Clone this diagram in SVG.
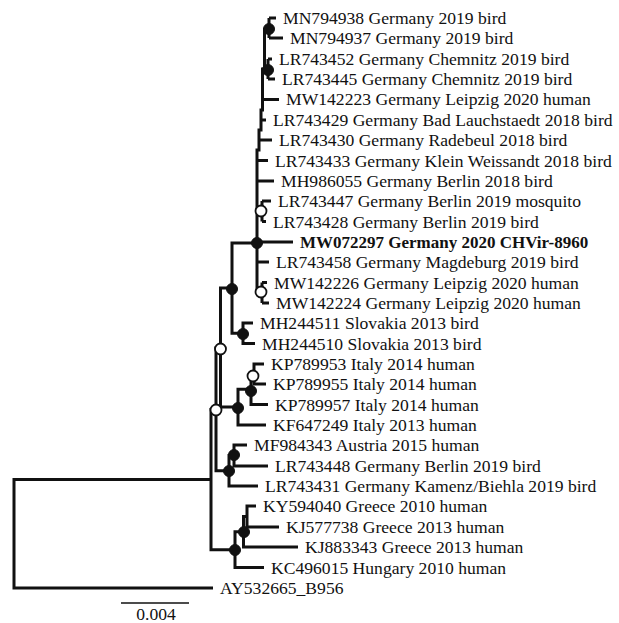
<svg xmlns="http://www.w3.org/2000/svg" width="619" height="623" viewBox="0 0 619 623">
<style>
.br{fill:none;stroke:#111;stroke-width:3;stroke-linejoin:miter;stroke-linecap:butt}
.lb{font-family:"Liberation Serif","Times New Roman",serif;font-size:17.6px;fill:#111}
.bd{font-weight:bold;font-size:17px}
.f{fill:#111;stroke:#111;stroke-width:1}
.o{fill:#fff;stroke:#111;stroke-width:1.8}
</style>
<rect width="619" height="623" fill="#fff"/>
<g id="connectors" class="br">
<path d="M14 533.8V479.6H211M14 533.8V588H213"/>
<path d="M211 479.6V409.5H216M211 479.6V549.7H235"/>
<path d="M216 409.5V348H220.5M216 409.5V470.8H229"/>
<path d="M220.5 348V288H232M220.5 348V407H238"/>
<path d="M232 288V243H257M232 288V333.3H243"/>
<path d="M243 333.3V323H253M243 333.3V343.5H255"/>
<path d="M238 407V389.3H251M238 407V425H266"/>
<path d="M251 389.3V374H254M251 389.3V404.5H268"/>
<path d="M254 374V364H264M254 374V384H266"/>
<path d="M229 470.8V455.5H234M229 470.8V486H258"/>
<path d="M234 455.5V445H247M234 455.5V466H268"/>
<path d="M235 549.7V531.8H243.5M235 549.7V567.5H264"/>
<path d="M243.5 531.8V516.6H247M243.5 531.8V547H298"/>
<path d="M247 516.6V506H256M247 516.6V527H279"/>
<path d="M257 292.7V150H259V130H261V110H262.5V69H264.5V28"/>
<path d="M264.5 28.5H269M269 18V38M269 18H276M269 38H283"/>
<path d="M262.5 69H268M268 59V79M268 59H272M268 79H275"/>
<path d="M262.5 99.4H279M261 120H266M259 140H272M257 160.5H268M257 181H274"/>
<path d="M257 211.3H262M262 201V221.5M262 201H271M262 221.5H266"/>
<path d="M257 242H293M257 262H269"/>
<path d="M257 292.7H262M262 282.5V303M262 282.5H267M262 303H269"/>
<path d="M121 603H189" style="stroke-width:1.5"/>
</g>
<g id="node-C1"><circle class="f" cx="269" cy="29" r="5.5"/></g>
<g id="node-C2"><circle class="f" cx="268" cy="70" r="5.5"/></g>
<g id="node-C10"><circle class="o" cx="261" cy="211" r="5.5"/></g>
<g id="node-N4"><circle class="f" cx="257" cy="243" r="5.5"/></g>
<g id="node-P"><circle class="o" cx="261" cy="292" r="5.5"/></g>
<g id="node-N3"><circle class="f" cx="232" cy="289" r="5.5"/></g>
<g id="node-S"><circle class="f" cx="243" cy="334" r="5.5"/></g>
<g id="node-N2"><circle class="o" cx="220.5" cy="349" r="5.5"/></g>
<g id="node-I3"><circle class="o" cx="253" cy="376" r="5.5"/></g>
<g id="node-I2"><circle class="f" cx="251" cy="391" r="5.5"/></g>
<g id="node-I"><circle class="f" cx="238" cy="408" r="5.5"/></g>
<g id="node-N1"><circle class="o" cx="216" cy="410" r="5.5"/></g>
<g id="node-A2"><circle class="f" cx="234" cy="455" r="5.5"/></g>
<g id="node-A1"><circle class="f" cx="229" cy="471" r="5.5"/></g>
<g id="node-G2"><circle class="f" cx="244" cy="532" r="5.5"/></g>
<g id="node-G"><circle class="f" cx="235" cy="550" r="5.5"/></g>
<g id="leaf-1"><text class="lb" x="283" y="24">MN794938 Germany 2019 bird</text></g>
<g id="leaf-2"><text class="lb" x="290" y="44">MN794937 Germany 2019 bird</text></g>
<g id="leaf-3"><text class="lb" x="279" y="65">LR743452 Germany Chemnitz 2019 bird</text></g>
<g id="leaf-4"><text class="lb" x="282" y="85">LR743445 Germany Chemnitz 2019 bird</text></g>
<g id="leaf-5"><text class="lb" x="286" y="105.4">MW142223 Germany Leipzig 2020 human</text></g>
<g id="leaf-6"><text class="lb" x="273" y="126">LR743429 Germany Bad Lauchstaedt 2018 bird</text></g>
<g id="leaf-7"><text class="lb" x="279" y="146">LR743430 Germany Radebeul 2018 bird</text></g>
<g id="leaf-8"><text class="lb" x="275" y="166.5">LR743433 Germany Klein Weissandt 2018 bird</text></g>
<g id="leaf-9"><text class="lb" x="281" y="187">MH986055 Germany Berlin 2018 bird</text></g>
<g id="leaf-10"><text class="lb" x="278" y="207">LR743447 Germany Berlin 2019 mosquito</text></g>
<g id="leaf-11"><text class="lb" x="273" y="227.5">LR743428 Germany Berlin 2019 bird</text></g>
<g id="leaf-12"><text class="lb bd" x="300" y="248">MW072297 Germany 2020 CHVir-8960</text></g>
<g id="leaf-13"><text class="lb" x="276" y="268">LR743458 Germany Magdeburg 2019 bird</text></g>
<g id="leaf-14"><text class="lb" x="274" y="288.5">MW142226 Germany Leipzig 2020 human</text></g>
<g id="leaf-15"><text class="lb" x="276" y="309">MW142224 Germany Leipzig 2020 human</text></g>
<g id="leaf-16"><text class="lb" x="260" y="329">MH244511 Slovakia 2013 bird</text></g>
<g id="leaf-17"><text class="lb" x="262" y="349.5">MH244510 Slovakia 2013 bird</text></g>
<g id="leaf-18"><text class="lb" x="271" y="370">KP789953 Italy 2014 human</text></g>
<g id="leaf-19"><text class="lb" x="273" y="390">KP789955 Italy 2014 human</text></g>
<g id="leaf-20"><text class="lb" x="275" y="410.5">KP789957 Italy 2014 human</text></g>
<g id="leaf-21"><text class="lb" x="273" y="431">KF647249 Italy 2013 human</text></g>
<g id="leaf-22"><text class="lb" x="254" y="451">MF984343 Austria 2015 human</text></g>
<g id="leaf-23"><text class="lb" x="275" y="472">LR743448 Germany Berlin 2019 bird</text></g>
<g id="leaf-24"><text class="lb" x="265" y="492">LR743431 Germany Kamenz/Biehla 2019 bird</text></g>
<g id="leaf-25"><text class="lb" x="263" y="512">KY594040 Greece 2010 human</text></g>
<g id="leaf-26"><text class="lb" x="286" y="533">KJ577738 Greece 2013 human</text></g>
<g id="leaf-27"><text class="lb" x="305" y="553">KJ883343 Greece 2013 human</text></g>
<g id="leaf-28"><text class="lb" x="271" y="573.5">KC496015 Hungary 2010 human</text></g>
<g id="leaf-29"><text class="lb" x="220" y="594">AY532665_B956</text></g>
<g id="scale"><text class="lb" x="156" y="620" text-anchor="middle">0.004</text></g>
</svg>
